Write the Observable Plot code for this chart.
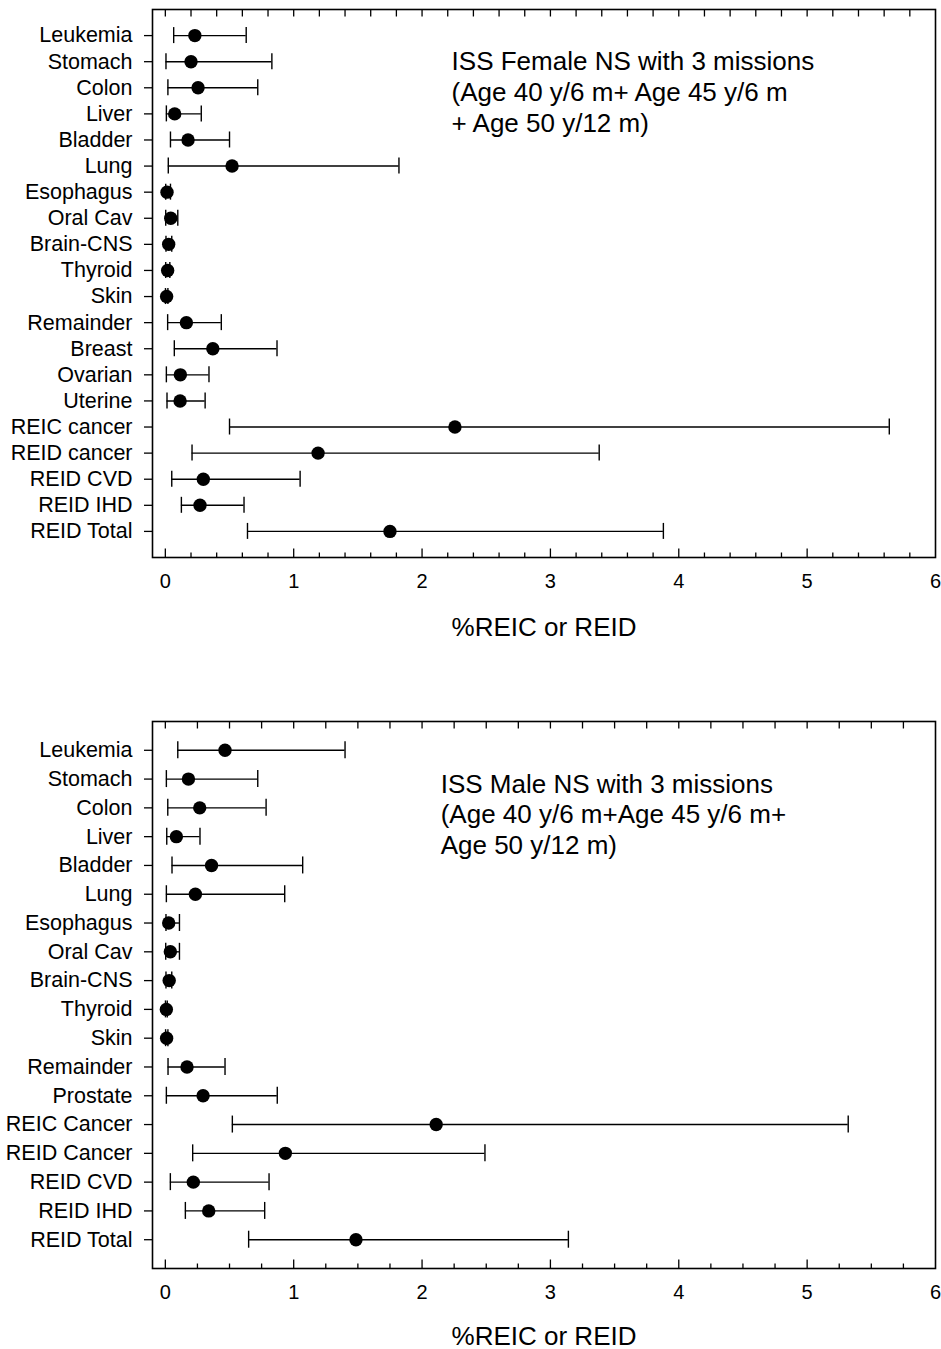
<!DOCTYPE html>
<html>
<head>
<meta charset="utf-8">
<script src="https://cdn.jsdelivr.net/npm/d3@7"></script>
<script src="https://cdn.jsdelivr.net/npm/@observablehq/plot@0.6"></script>
<style>
  html, body { margin: 0; padding: 0; background: #ffffff; }
  #chart svg { display: block; }
</style>
</head>
<body>
<div id="chart"></div>
<script>
// ---------- Data: female panel ----------
const femaleCategories = ["Leukemia","Stomach","Colon","Liver","Bladder","Lung","Esophagus","Oral Cav","Brain-CNS","Thyroid","Skin","Remainder","Breast","Ovarian","Uterine","REIC cancer","REID cancer","REID CVD","REID IHD","REID Total"];
const femaleMean  = [0.23, 0.20, 0.255, 0.073, 0.177, 0.52, 0.013, 0.042, 0.026, 0.018, 0.010, 0.164, 0.37, 0.117, 0.115, 2.256, 1.19, 0.296, 0.27, 1.75];
const femaleLower = [0.065, 0.005, 0.02, 0.008, 0.04, 0.023, 0.003, 0.003, 0.005, 0.003, 0.001, 0.018, 0.07, 0.008, 0.013, 0.50, 0.208, 0.05, 0.125, 0.64];
const femaleUpper = [0.63, 0.83, 0.72, 0.28, 0.50, 1.82, 0.04, 0.097, 0.05, 0.035, 0.02, 0.436, 0.87, 0.34, 0.31, 5.64, 3.38, 1.05, 0.613, 3.88];
const femaleNote = ["ISS Female NS with 3 missions", "(Age 40 y/6 m+ Age 45 y/6 m", "+ Age 50 y/12 m)"];

// ---------- Data: male panel ----------
const maleCategories = ["Leukemia","Stomach","Colon","Liver","Bladder","Lung","Esophagus","Oral Cav","Brain-CNS","Thyroid","Skin","Remainder","Prostate","REIC Cancer","REID Cancer","REID CVD","REID IHD","REID Total"];
const maleMean  = [0.465, 0.18, 0.268, 0.086, 0.36, 0.234, 0.026, 0.039, 0.03, 0.008, 0.01, 0.169, 0.294, 2.11, 0.935, 0.218, 0.338, 1.485];
const maleLower = [0.097, 0.008, 0.019, 0.011, 0.052, 0.008, 0.005, 0.003, 0.005, 0.001, 0.002, 0.021, 0.008, 0.522, 0.213, 0.039, 0.156, 0.649];
const maleUpper = [1.40, 0.72, 0.785, 0.27, 1.07, 0.93, 0.11, 0.11, 0.05, 0.015, 0.02, 0.465, 0.872, 5.32, 2.49, 0.808, 0.774, 3.14];
const maleNote = ["ISS Male NS with 3 missions", "(Age 40 y/6 m+Age 45 y/6 m+", "Age 50 y/12 m)"];

// ---------- Axis ticks ----------
const xTickLabels = [0, 1, 2, 3, 4, 5, 6];
const femaleMinorTicks = [0.2, 0.4, 0.6, 0.8, 1.2, 1.4, 1.6, 1.8, 2.2, 2.4, 2.6, 2.8, 3.2, 3.4, 3.6, 3.8, 4.2, 4.4, 4.6, 4.8, 5.2, 5.4, 5.6, 5.8];
const femaleTopTicks = [0, 0.2, 0.4, 0.6, 0.8, 1, 1.2, 1.4, 1.6, 1.8, 2, 2.2, 2.4, 2.6, 2.8, 3, 3.2, 3.4, 3.6, 3.8, 4, 4.2, 4.4, 4.6, 4.8, 5, 5.2, 5.4, 5.6, 5.8];
const maleMinorTicks = [0.25, 0.5, 0.75, 1.25, 1.5, 1.75, 2.25, 2.5, 2.75, 3.25, 3.5, 3.75, 4.25, 4.5, 4.75, 5.25, 5.5, 5.75];
const maleTopTicks = [0, 0.25, 0.5, 0.75, 1, 1.25, 1.5, 1.75, 2, 2.25, 2.5, 2.75, 3, 3.25, 3.5, 3.75, 4, 4.25, 4.5, 4.75, 5, 5.25, 5.5, 5.75];
const xTitle = "%REIC or REID";

function makePanel({cats, mean, lower, upper, note, minorTicks, topTicks, height, marginTop, marginBottom, capHeight, noteX, noteRow, noteDy, titleDy}) {
  const rows = cats.map((c, i) => ({cat: c, est: mean[i], lo: lower[i], hi: upper[i]}));
  const plotH = height - marginTop - marginBottom;
  const step = plotH / (cats.length + 1);
  const capInset = (step - capHeight) / 2;
  return Plot.plot({
    width: 941,
    height,
    marginTop,
    marginBottom,
    marginLeft: 152,
    marginRight: 6,
    style: {fontFamily: "'Liberation Sans', Arial, sans-serif", color: "black", background: "white"},
    x: {domain: [-0.1, 6]},
    y: {type: "band", domain: cats, paddingInner: 0, paddingOuter: 0.5, round: false},
    marks: [
      // inward ticks on the bottom edge
      Plot.tickX(xTickLabels.filter(d => d < 6), {x: d => d, insetTop: plotH - 8.5, stroke: "black", strokeWidth: 1.3}),
      Plot.tickX(minorTicks, {x: d => d, insetTop: plotH - 4.5, stroke: "black", strokeWidth: 1.3}),
      // inward ticks on the top edge
      Plot.tickX(topTicks, {x: d => d, insetBottom: plotH - 7.5, stroke: "black", strokeWidth: 1.3}),
      Plot.axisX({ticks: xTickLabels, tickSize: 0, tickPadding: 16, fontSize: 20, label: null, tickFormat: d => String(d)}),
      Plot.axisY({tickSize: 8, tickPadding: 12, fontSize: 21.5, label: null, strokeWidth: 1.3}),
      Plot.text([xTitle], {frameAnchor: "bottom", dy: titleDy, lineAnchor: "bottom", fontSize: 26, fill: "black"}),
      // error bars
      Plot.ruleY(rows, {y: "cat", x1: "lo", x2: "hi", stroke: "black", strokeWidth: 1.4}),
      Plot.tickX(rows, {x: "lo", y: "cat", insetTop: capInset, insetBottom: capInset, stroke: "black", strokeWidth: 1.4}),
      Plot.tickX(rows, {x: "hi", y: "cat", insetTop: capInset, insetBottom: capInset, stroke: "black", strokeWidth: 1.4}),
      Plot.dot(rows, {x: "est", y: "cat", r: 6.7, fill: "black", stroke: "none"}),
      // annotation
      Plot.text([note.join("\n")], {x: () => noteX, y: () => noteRow, text: d => d, textAnchor: "start", lineAnchor: "top", lineHeight: 1.19, fontSize: 26, dy: noteDy, fill: "black"}),
      Plot.frame({stroke: "black", strokeWidth: 1.6})
    ]
  });
}

const chart = document.getElementById("chart");
chart.appendChild(makePanel({
  cats: femaleCategories, mean: femaleMean, lower: femaleLower, upper: femaleUpper, note: femaleNote,
  minorTicks: femaleMinorTicks, topTicks: femaleTopTicks,
  height: 680, marginTop: 9, marginBottom: 123, capHeight: 16,
  noteX: 2.23, noteRow: "Stomach", noteDy: -13.5, titleDy: 78
}));
chart.appendChild(makePanel({
  cats: maleCategories, mean: maleMean, lower: maleLower, upper: maleUpper, note: maleNote,
  minorTicks: maleMinorTicks, topTicks: maleTopTicks,
  height: 669, marginTop: 41, marginBottom: 81, capHeight: 17,
  noteX: 2.145, noteRow: "Stomach", noteDy: -8.5, titleDy: 76
}));
</script>
</body>
</html>
